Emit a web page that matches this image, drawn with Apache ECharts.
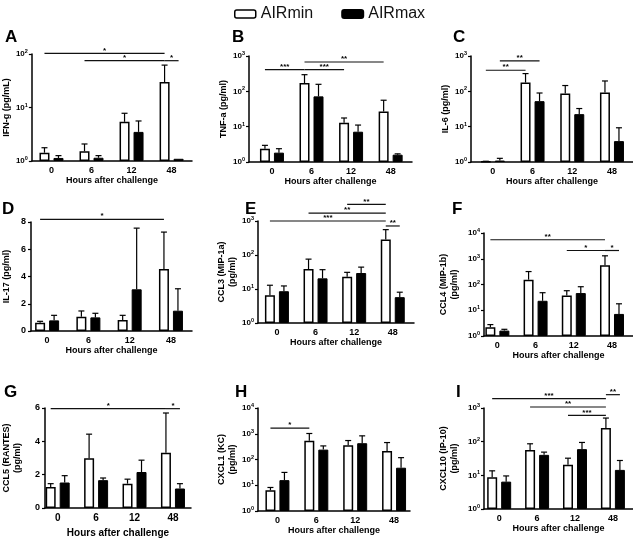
<!DOCTYPE html>
<html><head><meta charset="utf-8">
<script src="https://cdn.jsdelivr.net/npm/echarts@6/dist/echarts.min.js"></script>
<style>html,body{margin:0;padding:0;background:#fff}#c{width:633px;height:539px}</style>
</head><body><div id="c"></div>
<script>
// ---------- DATA ----------
const hours = ['0', '6', '12', '48'];
const groupNames = ['AIRmin', 'AIRmax'];

// A  IFN-g
const ifngMin = [1.43, 1.52, 5.4, 30];
const ifngMinSD = [0.34, 0.56, 2.4, 32];
const ifngMax = [1.14, 1.15, 3.5, 1.1];
const ifngMaxSD = [0.12, 0.11, 2.1, 0];
const ifngSig = [[0, 0, 3, 0, 103, '*'], [1, 0, 3, 0, 75, '*'], [3, 0, 3, 1, 75, '*']];

// B  TNF-a
const tnfMin = [2.38, 172, 13, 27];
const tnfMinSD = [0.58, 124, 4.6, 29];
const tnfMax = [1.84, 72, 7.2, 1.61];
const tnfMaxSD = [0.54, 86, 3.9, 0.09];
const tnfSig = [[0, 0, 1, 0, 410, '***'], [1, 0, 2, 0, 410, '***'], [1, 0, 3, 0, 676, '**']];

// C  IL-6
const il6Min = [1.03, 177, 87, 92.5];
const il6MinSD = [0.02, 141, 59, 104];
const il6Max = [1.1, 52.7, 22.6, 3.9];
const il6MaxSD = [0.17, 37, 10, 5.4];
const il6Sig = [[0, 0, 1, 0, 395, '**'], [0, 1, 1, 1, 724, '**']];

// D  IL-17
const il17Min = [0.61, 1.05, 0.81, 4.55];
const il17MinSD = [0.1, 0.42, 0.34, 2.71];
const il17Max = [0.78, 1.0, 3.06, 1.49];
const il17MaxSD = [0.37, 0.3, 4.49, 1.61];
const il17Sig = [[0, 0, 3, 0, 8.2, '*']];

// E  CCL3
const ccl3Min = [6.6, 38.6, 23, 284];
const ccl3MinSD = [6.3, 37, 7.9, 273];
const ccl3Max = [8.6, 20.6, 29.5, 5.75];
const ccl3MaxSD = [3.7, 16.4, 14.5, 2.3];
const ccl3Sig = [[2, 0, 3, 0, 3080, '**'], [1, 0, 3, 0, 1714, '**'], [0, 0, 3, 0, 1000, '***'], [3, 0, 3, 1, 714, '**']];

// F  CCL4
const ccl4Min = [2.18, 154, 37.7, 561];
const ccl4MinSD = [0.59, 164, 19.7, 739];
const ccl4Max = [1.62, 23.3, 46.5, 7.2];
const ccl4MaxSD = [0.2, 24.7, 35.5, 10.6];
const ccl4Sig = [[0, 0, 3, 0, 5475, '**'], [2, 0, 3, 0, 2090, '*'], [3, 0, 3, 1, 2090, '*']];

// G  CCL5
const ccl5Min = [1.26, 2.99, 1.46, 3.32];
const ccl5MinSD = [0.2, 1.44, 0.27, 2.38];
const ccl5Max = [1.53, 1.67, 2.16, 1.17];
const ccl5MaxSD = [0.41, 0.13, 0.71, 0.29];
const ccl5Sig = [[0, 0, 3, 0, 5.96, '*'], [3, 0, 3, 1, 5.96, '*']];

// H  CXCL1
const cxcl1Min = [6.4, 529, 358, 215];
const cxcl1MinSD = [1.8, 494, 187, 240];
const cxcl1Max = [15.8, 242, 429, 48];
const cxcl1MaxSD = [15.7, 95, 400, 70];
const cxcl1Sig = [[0, 0, 1, 0, 1652, '*']];

// I  CXCL10
const cxcl10Min = [8.8, 57, 20.5, 253];
const cxcl10MinSD = [4.8, 29.5, 11.8, 250];
const cxcl10Max = [6.5, 40.6, 60, 14.5];
const cxcl10MaxSD = [3.1, 8.3, 34.8, 13.1];
const cxcl10Sig = [[0, 0, 3, 0, 1892, '***'], [1, 0, 3, 0, 1071, '**'], [2, 0, 3, 0, 602, '***'], [3, 0, 3, 1, 2489, '**']];

// ---------- LAYOUT ----------
const FONT = '"Liberation Sans", Arial, Helvetica, sans-serif';
const OFF = 7;      // half distance between paired bar centres (px)
const panels = [
  {letter:'A', lx:5,   ly:37,  name:'IFN-g (pg/mL)', log:true, ymin:1, ymax:100, left:31, top:54, w:161, h:107, xmin:-0.49, xmax:3.51, nameGap:19, xNameGap:14, xFont:9,
   min:ifngMin, minSD:ifngMinSD, max:ifngMax, maxSD:ifngMaxSD, sig:ifngSig},
  {letter:'B', lx:232, ly:37,  name:'TNF-a (pg/ml)', log:true, ymin:1, ymax:1000, left:249, top:56, w:163, h:106, xmin:-0.58, xmax:3.54, nameGap:19, xNameGap:14, xFont:9,
   min:tnfMin, minSD:tnfMinSD, max:tnfMax, maxSD:tnfMaxSD, sig:tnfSig},
  {letter:'C', lx:453, ly:37,  name:'IL-6 (pg/ml)', log:true, ymin:1, ymax:1000, left:471, top:56, w:162, h:106, xmin:-0.55, xmax:3.53, nameGap:17, xNameGap:14, xFont:9,
   min:il6Min, minSD:il6MinSD, max:il6Max, maxSD:il6MaxSD, sig:il6Sig},
  {letter:'D', lx:2,   ly:209, name:'IL-17 (pg/ml)', log:false, ymin:0, ymax:8, left:31, top:222, w:161, h:109, xmin:-0.39, xmax:3.51, nameGap:19, xNameGap:14, xFont:9,
   min:il17Min, minSD:il17MinSD, max:il17Max, maxSD:il17MaxSD, sig:il17Sig},
  {letter:'E', lx:245, ly:209, name:'CCL3 (MIP-1a)\n(pg/ml)', log:true, ymin:1, ymax:1000, left:258, top:221, w:156, h:102, xmin:-0.49, xmax:3.55, nameGap:20, xNameGap:14, xFont:9,
   min:ccl3Min, minSD:ccl3MinSD, max:ccl3Max, maxSD:ccl3MaxSD, sig:ccl3Sig},
  {letter:'F', lx:452, ly:209, name:'CCL4 (MIP-1b)\n(pg/ml)', log:true, ymin:1, ymax:10000, left:484, top:233, w:149, h:103, xmin:-0.35, xmax:3.55, nameGap:24, xNameGap:14, xFont:9,
   min:ccl4Min, minSD:ccl4MinSD, max:ccl4Max, maxSD:ccl4MaxSD, sig:ccl4Sig},
  {letter:'G', lx:4,   ly:392, name:'CCL5 (RANTES)\n(pg/ml)', log:false, ymin:0, ymax:6, left:42, top:408, w:149, h:103, xmin:-0.33, xmax:3.47, nameGap:22, xNameGap:20, xFont:10,
   min:ccl5Min, minSD:ccl5MinSD, max:ccl5Max, maxSD:ccl5MaxSD, sig:ccl5Sig},
  {letter:'H', lx:235, ly:392, name:'CXCL1 (KC)\n(pg/ml)', log:true, ymin:1, ymax:10000, left:258, top:408, w:152, h:103, xmin:-0.5, xmax:3.41, nameGap:20, xNameGap:14, xFont:9,
   min:cxcl1Min, minSD:cxcl1MinSD, max:cxcl1Max, maxSD:cxcl1MaxSD, sig:cxcl1Sig},
  {letter:'I', lx:456, ly:392, name:'CXCL10 (IP-10)\n(pg/ml)', log:true, ymin:1, ymax:1000, left:484, top:408, w:149, h:101, xmin:-0.4, xmax:3.53, nameGap:24, xNameGap:13, xFont:9,
   min:cxcl10Min, minSD:cxcl10MinSD, max:cxcl10Max, maxSD:cxcl10MaxSD, sig:cxcl10Sig}
];

const grid = [], xAxis = [], yAxis = [], series = [], graphic = [];
const axisLineStyle = {color:'#000', width:1.5};

panels.forEach((p, i) => {
  grid.push({left:p.left, top:p.top, width:p.w, height:p.h});
  xAxis.push({
    type:'value', gridIndex:i, min:p.xmin, max:p.xmax,
    axisLine:{show:true, onZero:false, lineStyle:axisLineStyle},
    axisTick:{show:false}, splitLine:{show:false},
    axisLabel:{customValues:[0,1,2,3], formatter:v => hours[Math.round(v)], margin:5,
      fontSize:p.xFont, fontWeight:'bold', fontFamily:FONT, color:'#000'},
    name:'Hours after challenge', nameLocation:'middle', nameGap:p.xNameGap,
    nameTextStyle:{fontSize:p.xFont, fontWeight:'bold', fontFamily:FONT, color:'#000'}
  });
  const ya = {
    gridIndex:i, min:p.ymin, max:p.ymax,
    axisLine:{show:true, onZero:false, lineStyle:axisLineStyle},
    axisTick:{show:true, length:3, lineStyle:{color:'#000', width:1.2}},
    splitLine:{show:false},
    name:p.name, nameLocation:'middle', nameRotate:90, nameGap:p.nameGap,
    nameTextStyle:{fontSize:9, fontWeight:'bold', fontFamily:FONT, color:'#000', lineHeight:11}
  };
  if (p.log) {
    ya.type = 'log'; ya.logBase = 10;
    ya.axisLabel = {margin:4, formatter:v => '{b|10}{s|' + Math.round(Math.log10(v)) + '}',
      rich:{b:{fontSize:8, fontWeight:'bold', fontFamily:FONT, color:'#000'},
            s:{fontSize:5.5, fontWeight:'bold', fontFamily:FONT, color:'#000', padding:[0,0,5,0]}}};
  } else {
    ya.type = 'value'; ya.interval = 2;
    ya.axisLabel = {margin:5, fontSize:9, fontWeight:'bold', fontFamily:FONT, color:'#000'};
  }
  yAxis.push(ya);

  const mk = arr => arr.map((v, k) => [k, v]);
  series.push({
    type:'bar', name:groupNames[0], xAxisIndex:i, yAxisIndex:i, data:mk(p.min),
    barWidth:10, barGap:'40%',
    itemStyle:{color:'#fff', borderColor:'#000', borderWidth:1.5}, z:2
  });
  series.push({
    type:'bar', name:groupNames[1], xAxisIndex:i, yAxisIndex:i, data:mk(p.max),
    barWidth:10, barGap:'40%',
    itemStyle:{color:'#000', borderColor:'#000', borderWidth:1}, z:2
  });
  const errData = [];
  p.min.forEach((v, k) => errData.push([k, v, p.minSD[k], -1]));
  p.max.forEach((v, k) => errData.push([k, v, p.maxSD[k], 1]));
  series.push({
    type:'custom', name:'err' + i, xAxisIndex:i, yAxisIndex:i, z:3,
    encode:{x:0, y:1}, data:errData,
    renderItem:(params, api) => {
      const x = api.value(0), m = api.value(1), s = api.value(2), side = api.value(3);
      if (!(s > 0)) return null;
      const a = api.coord([x, m]), b = api.coord([x, m + s]);
      const cx = a[0] + side * OFF;
      const st = {stroke:'#000', lineWidth:1.2};
      return {type:'group', children:[
        {type:'line', shape:{x1:cx, y1:a[1], x2:cx, y2:b[1]}, style:st},
        {type:'line', shape:{x1:cx - 3, y1:b[1], x2:cx + 3, y2:b[1]}, style:st}
      ]};
    }
  });
  const sig = p.sig;
  series.push({
    type:'custom', name:'sig' + i, xAxisIndex:i, yAxisIndex:i, z:4, clip:false,
    encode:{x:0, y:1}, data:sig.map(b => [b[0], b[4]]),
    renderItem:(params, api) => {
      const b = sig[params.dataIndex];
      const a = api.coord([b[0], b[4]]), c = api.coord([b[2], b[4]]);
      const x1 = a[0] + (b[1] ? OFF : -OFF), x2 = c[0] + (b[3] ? OFF : -OFF);
      return {type:'group', children:[
        {type:'line', shape:{x1:x1, y1:a[1], x2:x2, y2:a[1]}, style:{stroke:'#111', lineWidth:1.2}},
        {type:'text', style:{text:b[5], x:(x1 + x2) / 2, y:a[1] + 1, align:'center', verticalAlign:'bottom',
          fontSize:8, fontWeight:'bold', fontFamily:FONT, fill:'#000'}}
      ]};
    }
  });
  graphic.push({type:'text', x:p.lx, y:p.ly, style:{text:p.letter, fontSize:17, fontWeight:'bold',
    fontFamily:FONT, fill:'#000', verticalAlign:'middle'}});
});

const chart = echarts.init(document.getElementById('c'), null, {renderer:'canvas'});
chart.setOption({
  animation:false,
  backgroundColor:'#fff',
  legend:{
    data:[{name:'AIRmin', itemStyle:{color:'#fff', borderColor:'#000', borderWidth:1.5}}, {name:'AIRmax'}],
    left:229, top:1, icon:'roundRect', itemWidth:21, itemHeight:8, itemGap:28, selectedMode:false,
    textStyle:{fontSize:16, fontFamily:FONT, color:'#111'}
  },
  grid, xAxis, yAxis, series, graphic
});
</script></body></html>
